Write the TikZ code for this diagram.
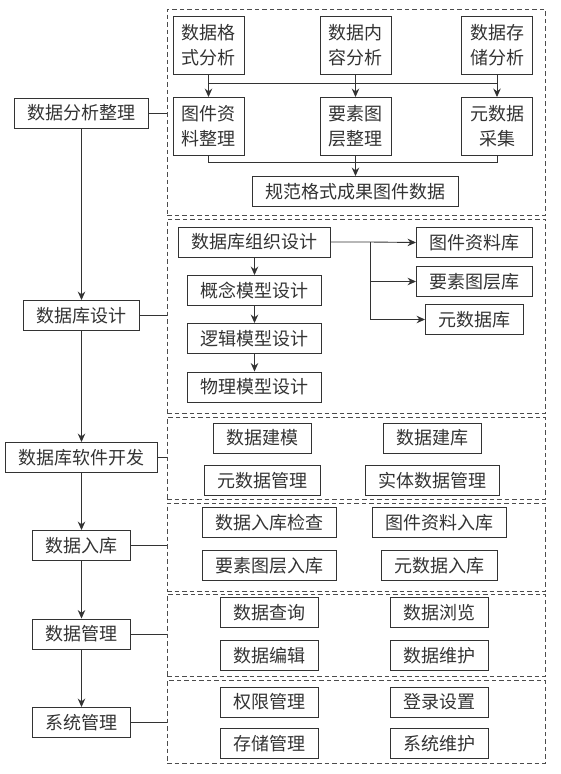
\documentclass[tikz,border=0pt]{standalone}
\usepackage{fontspec}
\newfontfamily\cjk{Noto Sans CJK SC}
\usetikzlibrary{arrows.meta,positioning}

\begin{document}
\begin{tikzpicture}[x=1pt,y=-1pt,font=\cjk\fontsize{18pt}{25pt}\selectfont,
  box/.style={draw=black!80,line width=0.9pt,text=black!80,inner xsep=13pt,inner ysep=0pt,minimum height=30pt},
  tallbox/.style={box,align=center,inner xsep=8.5pt,minimum height=58pt},
  panel/.style={draw=black!70,line width=0.8pt,dash pattern=on 4.5pt off 3pt,minimum width=378pt},
  link/.style={line width=0.9pt,draw=black!80},
  arrow/.style={-{Stealth[length=8.5pt,width=7.5pt]},line width=0.9pt,draw=black!80}]
\useasboundingbox (0,0) rectangle (560,774);
\node[panel,minimum height=206pt] (p1) at (356,112) {};
\node[panel,minimum height=194pt] (p2) at (356,316) {};
\node[panel,minimum height=82pt] (p3) at (356,458) {};
\node[panel,minimum height=88pt] (p4) at (356,547) {};
\node[panel,minimum height=82pt] (p5) at (356,635) {};
\node[panel,minimum height=83pt] (p6) at (356,721.5) {};
\node[box] (ana) at (81.5,113) {数据分析整理};
\node[box] (dbd) at (81.5,315.5) {数据库设计};
\node[box] (dev) at (81.5,457.5) {数据库软件开发};
\node[box] (imp) at (81.5,545.5) {数据入库};
\node[box] (mgt) at (81.5,634) {数据管理};
\node[box] (sys) at (81.5,722.5) {系统管理};
\draw[arrow] (ana) -- (dbd); \draw[arrow] (dbd) -- (dev); \draw[arrow] (dev) -- (imp);
\draw[arrow] (imp) -- (mgt); \draw[arrow] (mgt) -- (sys);
\foreach \s/\p in {ana/p1,dbd/p2,dev/p3,imp/p4,mgt/p5,sys/p6}
  \draw[link] (\s.east) -- (\s.east -| \p.west);
\node[tallbox] (fmt) at (208.5,45.5) {数据格\\式分析};
\node[tallbox] (cnt) at (355.5,45.5) {数据内\\容分析};
\node[tallbox] (sto) at (497,45.5) {数据存\\储分析};
\node[tallbox] (img) at (208.5,126.5) {图件资\\料整理};
\node[tallbox] (lay) at (355.5,126.5) {要素图\\层整理};
\node[tallbox] (meta) at (497,126.5) {元数据\\采集};
\node[box] (std) at (355.5,191.5) {规范格式成果图件数据};
\coordinate (topbus) at (0,83);
\coordinate (botbus) at (0,162);
\draw[arrow] (fmt) -- (img); \draw[arrow] (cnt) -- (lay); \draw[arrow] (sto) -- (meta);
\draw[link] (fmt.south |- topbus) -- (sto.south |- topbus);
\draw[link] (img.south) -- (img.south |- botbus) -| (meta.south);
\draw[arrow] (lay) -- (std);
\node[box] (org) at (254.5,242) {数据库组织设计};
\node[box] (con) at (254.5,290.5) {概念模型设计};
\node[box] (lgc) at (254.5,338.5) {逻辑模型设计};
\node[box] (phy) at (254.5,387) {物理模型设计};
\node[box] (lib1) at (474.5,242.5) {图件资料库};
\node[box] (lib2) at (474.5,281.5) {要素图层库};
\node[box] (lib3) at (474.5,319.5) {元数据库};
\draw[arrow] (org) -- (con); \draw[arrow] (con) -- (lgc); \draw[arrow] (lgc) -- (phy);
\coordinate (fork) at (370,242);
\draw[arrow] (org.east) -- (fork) -- (lib1.west);
\draw[arrow] (fork) |- (lib2.west); \draw[arrow] (fork) |- (lib3.west);
\node[box] (mod) at (262.5,438) {数据建模};
\node[box] (bld) at (432,438) {数据建库};
\node[box] (mdm) at (262.5,480.5) {元数据管理};
\node[box] (edm) at (432,480.5) {实体数据管理};
\node[box] (chk) at (269.5,522.5) {数据入库检查};
\node[box] (imgin) at (439.5,522.5) {图件资料入库};
\node[box] (layin) at (269.5,565.5) {要素图层入库};
\node[box] (metain) at (439.5,565.5) {元数据入库};
\node[box] (qry) at (269,612.5) {数据查询};
\node[box] (brw) at (439.5,612.5) {数据浏览};
\node[box] (edt) at (269,655.5) {数据编辑};
\node[box] (mnt) at (439.5,655.5) {数据维护};
\node[box] (auth) at (269,702) {权限管理};
\node[box] (login) at (439.5,702) {登录设置};
\node[box] (stor) at (269,743.5) {存储管理};
\node[box] (smnt) at (439.5,743.5) {系统维护};
\end{tikzpicture}
\end{document}
